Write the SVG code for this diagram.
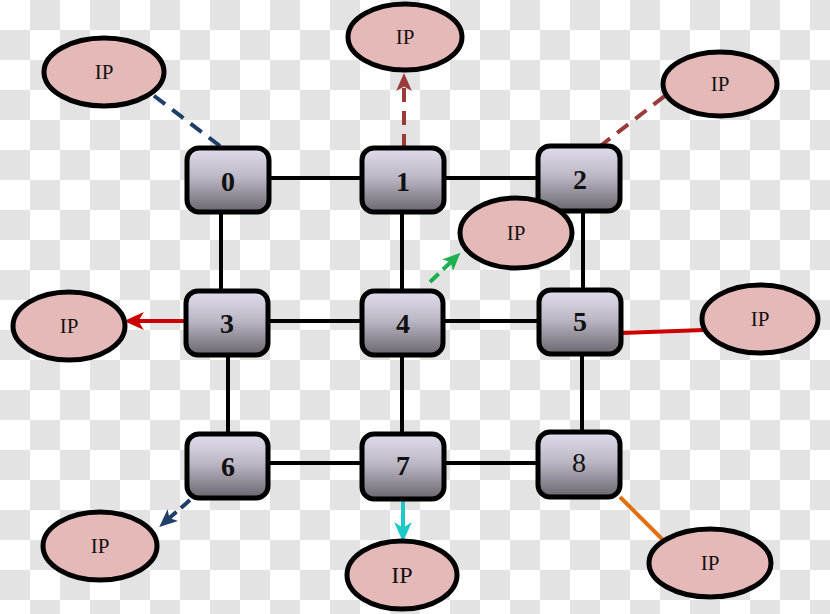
<svg xmlns="http://www.w3.org/2000/svg" width="830" height="614" viewBox="0 0 830 614">
<defs>
<pattern id="chk" width="60" height="60" patternUnits="userSpaceOnUse">
<rect width="60" height="60" fill="#ffffff"/>
<rect x="30" y="0" width="30" height="30" fill="#e3e3e3"/>
<rect x="0" y="30" width="30" height="30" fill="#e3e3e3"/>
</pattern>
<linearGradient id="nodeGrad" x1="0" y1="0" x2="0" y2="1">
<stop offset="0" stop-color="#e2dded"/>
<stop offset="0.45" stop-color="#bdb8c5"/>
<stop offset="1" stop-color="#6a666e"/>
</linearGradient>
<marker id="aRed" markerUnits="userSpaceOnUse" markerWidth="20" markerHeight="18" refX="8" refY="8" orient="auto" viewBox="0 0 18 16">
<path d="M0,0 L18,8 L0,16 L5,8 z" fill="#cc0000"/>
</marker>
<marker id="aBrown" markerUnits="userSpaceOnUse" markerWidth="18" markerHeight="16" refX="8" refY="7" orient="auto" viewBox="0 0 16 14">
<path d="M0,0 L16,7 L0,14 L4,7 z" fill="#9b3a3a"/>
</marker>
<marker id="aGreen" markerUnits="userSpaceOnUse" markerWidth="18" markerHeight="16" refX="8" refY="7" orient="auto" viewBox="0 0 16 14">
<path d="M0,0 L16,7 L0,14 L4,7 z" fill="#1db050"/>
</marker>
<marker id="aNavy" markerUnits="userSpaceOnUse" markerWidth="18" markerHeight="16" refX="8" refY="7" orient="auto" viewBox="0 0 16 14">
<path d="M0,0 L16,7 L0,14 L4,7 z" fill="#1f3f6a"/>
</marker>
<marker id="aCyan" markerUnits="userSpaceOnUse" markerWidth="20" markerHeight="18" refX="8" refY="8" orient="auto" viewBox="0 0 18 16">
<path d="M0,0 L18,8 L0,16 L5,8 z" fill="#1ec8c8"/>
</marker>
</defs>
<style>
.node rect{fill:url(#nodeGrad);stroke:#000;stroke-width:5}
.node text{font-family:"Liberation Serif",serif;font-weight:bold;font-size:28px;text-anchor:middle;fill:#111}
.ip ellipse{fill:#e6b9b9;stroke:#000;stroke-width:5}
.ip text{font-family:"Liberation Serif",serif;font-size:21px;text-anchor:middle;fill:#111}
.mesh line{stroke:#000;stroke-width:4}
.dash{stroke-dasharray:14 9;fill:none;stroke-width:4}
.solid{fill:none;stroke-width:4}
</style>
<rect width="830" height="614" fill="url(#chk)"/>

<g id="connectors">
<g class="mesh">
<line x1="268" y1="178" x2="363" y2="178"/>
<line x1="443" y1="178" x2="539" y2="178"/>
<line x1="221" y1="212" x2="221" y2="292"/>
<line x1="402" y1="212" x2="402" y2="292"/>
<line x1="583" y1="210" x2="583" y2="291"/>
<line x1="267" y1="321" x2="363" y2="321"/>
<line x1="442" y1="321" x2="540" y2="321"/>
<line x1="228" y1="354" x2="228" y2="435"/>
<line x1="402" y1="354" x2="402" y2="435"/>
<line x1="582" y1="353" x2="582" y2="433"/>
<line x1="267" y1="463" x2="363" y2="463"/>
<line x1="443" y1="463" x2="539" y2="463"/>
</g>
<line class="dash" x1="220" y1="146" x2="153" y2="95" stroke="#1f3f6a"/>
<line class="dash" x1="404" y1="148" x2="404" y2="82" stroke="#9b3a3a" marker-end="url(#aBrown)"/>
<line class="dash" x1="599" y1="147" x2="666" y2="95" stroke="#9b3a3a"/>
<line class="dash" x1="430" y1="282" x2="454" y2="259" stroke="#1db050" marker-end="url(#aGreen)" style="stroke-dasharray:12 6"/>
<line class="solid" x1="186" y1="321" x2="135" y2="321" stroke="#cc0000" marker-end="url(#aRed)"/>
<line class="solid" x1="621" y1="333" x2="704" y2="330" stroke="#cc0000"/>
<line class="dash" x1="190" y1="500" x2="166" y2="521" stroke="#1f3f6a" marker-end="url(#aNavy)" style="stroke-dasharray:12 6"/>
<line class="solid" x1="403" y1="499" x2="403" y2="531" stroke="#1ec8c8" marker-end="url(#aCyan)"/>
<line class="solid" x1="620" y1="497" x2="666" y2="543" stroke="#e07010"/>
</g>

<g id="node0" class="node"><rect x="187" y="148" width="82" height="64" rx="12"/><text x="228" y="191">0</text></g>
<g id="node1" class="node"><rect x="362" y="148" width="82" height="64" rx="12"/><text x="403" y="191">1</text></g>
<g id="node2" class="node"><rect x="538" y="146" width="82" height="65" rx="12"/><text x="580" y="189">2</text></g>
<g id="node3" class="node"><rect x="186" y="291" width="82" height="64" rx="12"/><text x="227" y="333">3</text></g>
<g id="node4" class="node"><rect x="362" y="291" width="81" height="64" rx="12"/><text x="403" y="333">4</text></g>
<g id="node5" class="node"><rect x="539" y="290" width="82" height="64" rx="12"/><text x="580" y="331">5</text></g>
<g id="node6" class="node"><rect x="187" y="434" width="81" height="64" rx="12"/><text x="228" y="476">6</text></g>
<g id="node7" class="node"><rect x="362" y="434" width="82" height="65" rx="12"/><text x="403" y="475">7</text></g>
<g id="node8" class="node"><rect x="538" y="432" width="82" height="65" rx="12"/><text x="579" y="472" style="font-weight:normal">8</text></g>

<g id="ip0" class="ip"><ellipse cx="104" cy="72" rx="60" ry="34"/><text x="104" y="79">IP</text></g>
<g id="ip1" class="ip"><ellipse cx="405" cy="37" rx="57" ry="33"/><text x="405" y="44">IP</text></g>
<g id="ip2" class="ip"><ellipse cx="720" cy="84" rx="57" ry="32"/><text x="720" y="91">IP</text></g>
<g id="ip4" class="ip"><ellipse cx="516" cy="233" rx="56" ry="35"/><text x="516" y="240">IP</text></g>
<g id="ip3" class="ip"><ellipse cx="69" cy="326" rx="56" ry="34"/><text x="69" y="333">IP</text></g>
<g id="ip5" class="ip"><ellipse cx="760" cy="319" rx="58" ry="34"/><text x="760" y="326">IP</text></g>
<g id="ip6" class="ip"><ellipse cx="100" cy="546" rx="57" ry="34"/><text x="100" y="553">IP</text></g>
<g id="ip7" class="ip"><ellipse cx="402" cy="575" rx="55" ry="34"/><text x="402" y="583" style="font-size:24px">IP</text></g>
<g id="ip8" class="ip"><ellipse cx="710" cy="563" rx="61" ry="34"/><text x="710" y="570">IP</text></g>
</svg>
